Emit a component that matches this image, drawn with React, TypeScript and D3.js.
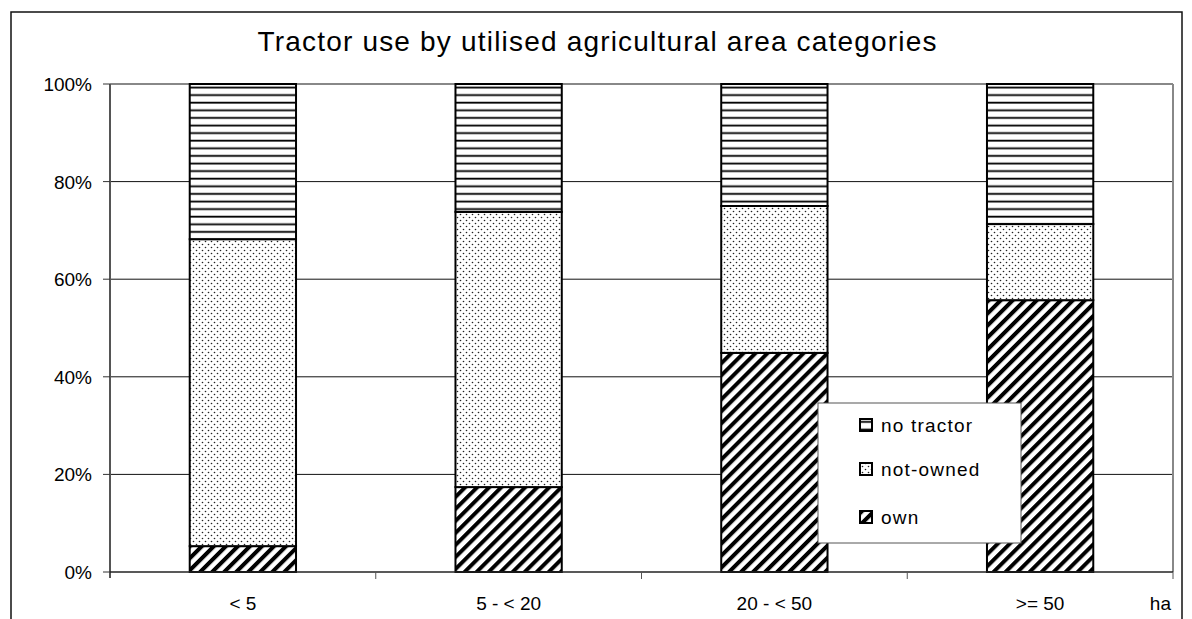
import React from "react";
import * as d3 from "d3";

const categories = ["< 5", "5 - < 20", "20 - < 50", ">= 50"];
const own = [5.3, 17.4, 44.9, 55.7];
const notOwned = [62.9, 56.4, 30.1, 15.6];
const noTractor = [31.8, 26.2, 25.0, 28.7];
const yTicks = [0, 20, 40, 60, 80, 100];
const seriesNames = ["own", "not-owned", "no tractor"];
const legendOrder = ["no tractor", "not-owned", "own"];

const width = 1192;
const height = 619;
const plot = { left: 110, right: 1173, top: 84, bottom: 572 };
const fills: Record<string, string> = {
  "own": "url(#diag)",
  "not-owned": "url(#dots)",
  "no tractor": "url(#hlines)",
};
const font = "'Liberation Sans', Arial, sans-serif";

export default function App() {
  const x = d3.scaleBand().domain(categories).range([plot.left, plot.right]).paddingInner(0.6).paddingOuter(0.3);
  const xBound = d3.scaleBand().domain(categories).range([plot.left, plot.right]);
  const y = d3.scaleLinear().domain([0, 100]).range([plot.bottom, plot.top]);

  const rows = categories.map((c, i) => ({ cat: c, "own": own[i], "not-owned": notOwned[i], "no tractor": noTractor[i] }));
  const stacked = d3.stack<any>().keys(seriesNames)(rows);

  return (
    <svg width={width} height={height} style={{ position: "absolute", left: 0, top: 0 }} fontFamily={font}>
      <defs>
        <pattern id="hlines" width="8" height="7.6" patternUnits="userSpaceOnUse" y={plot.top}>
          <rect width="8" height="7.6" fill="white" />
          <rect y="2.6" width="8" height="1.8" fill="black" />
        </pattern>
        <pattern id="dots" width="6" height="6" patternUnits="userSpaceOnUse">
          <rect width="6" height="6" fill="white" />
          <circle cx="1.5" cy="1.5" r="0.8" fill="#222" />
          <circle cx="4.5" cy="4.5" r="0.8" fill="#222" />
        </pattern>
        <pattern id="diag" width="8.5" height="8.5" patternUnits="userSpaceOnUse" patternTransform="rotate(45)">
          <rect width="8.5" height="8.5" fill="white" />
          <rect width="4" height="8.5" fill="black" />
        </pattern>
      </defs>
      <rect x={0} y={0} width={width} height={height} fill="white" />
      <rect x={11} y={12} width={1171} height={700} fill="none" stroke="#111" strokeWidth={1.5} />

      <text x={597} y={51} textAnchor="middle" fontSize={28} textLength={679} lengthAdjust="spacing" fill="#000">
        Tractor use by utilised agricultural area categories
      </text>

      {yTicks.filter(t => t > 0 && t < 100).map(t => (
        <line key={t} x1={plot.left} x2={plot.right} y1={y(t)} y2={y(t)} stroke="#111" strokeWidth={1} />
      ))}
      <line x1={plot.left} x2={plot.right} y1={y(100)} y2={y(100)} stroke="#888" strokeWidth={2} />
      <line x1={plot.right} x2={plot.right} y1={plot.top} y2={plot.bottom} stroke="#888" strokeWidth={2} />

      {stacked.map(s => (
        <g key={s.key}>
          {s.map((d, i) => (
            <rect key={i} x={x(categories[i])} width={x.bandwidth()} y={y(d[1])} height={y(d[0]) - y(d[1])}
              fill={fills[s.key]} stroke="#000" strokeWidth={2} />
          ))}
        </g>
      ))}

      <line x1={plot.left} x2={plot.left} y1={plot.top} y2={plot.bottom + 6} stroke="#555" strokeWidth={2} />
      <line x1={plot.left} x2={plot.right} y1={plot.bottom} y2={plot.bottom} stroke="#222" strokeWidth={1.5} />
      {yTicks.map(t => (
        <g key={t}>
          <line x1={plot.left - 7} x2={plot.left} y1={y(t)} y2={y(t)} stroke="#333" strokeWidth={1} />
          <text x={92} y={y(t) + 7} textAnchor="end" fontSize={19} fill="#000">{t}%</text>
        </g>
      ))}
      {categories.map(c => (
        <g key={c}>
          <line x1={(xBound(c) as number) + xBound.bandwidth()} x2={(xBound(c) as number) + xBound.bandwidth()}
            y1={plot.bottom} y2={plot.bottom + 7} stroke="#555" strokeWidth={1} />
          <text x={(xBound(c) as number) + xBound.bandwidth() / 2} y={610} textAnchor="middle" fontSize={19} fill="#000">{c}</text>
        </g>
      ))}
      <text x={1171} y={610} textAnchor="end" fontSize={19} fill="#000">ha</text>

      <g>
        <rect x={818} y={403} width={203} height={140} fill="white" stroke="#555" strokeWidth={1} />
        {legendOrder.map((name, i) => {
          const cy = [425, 469, 517][i];
          return (
            <g key={name}>
              <rect x={860} y={cy - 6} width={12} height={12} fill={fills[name]} stroke="#000" strokeWidth={2} />
              <text x={881} y={cy + 7} fontSize={19} letterSpacing={1.2} fill="#000">{name}</text>
            </g>
          );
        })}
      </g>
    </svg>
  );
}
